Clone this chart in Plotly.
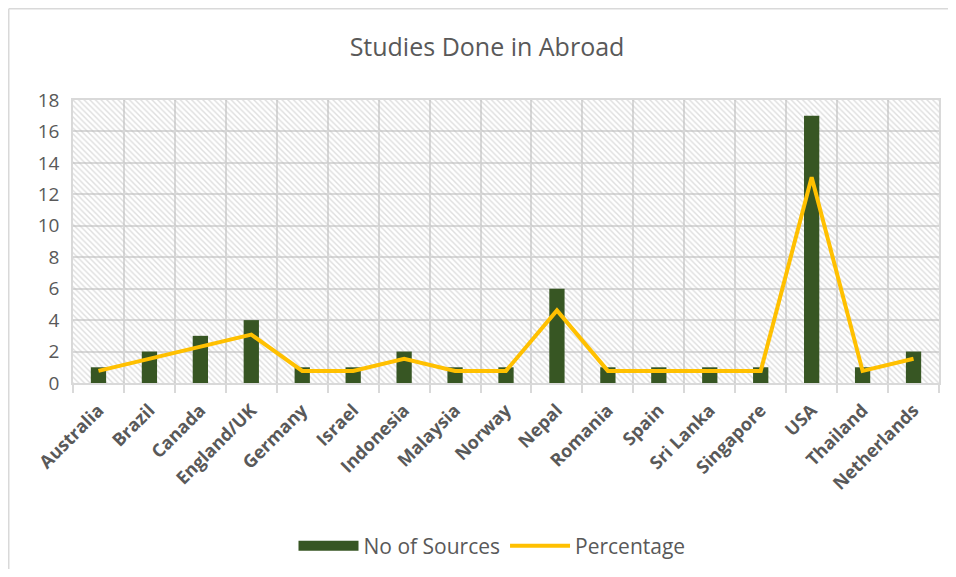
import plotly.graph_objects as go

countries = ['Australia', 'Brazil', 'Canada', 'England/UK', 'Germany', 'Israel',
             'Indonesia', 'Malaysia', 'Norway', 'Nepal', 'Romania', 'Spain',
             'Sri Lanka', 'Singapore', 'USA', 'Thailand', 'Netherlands']
sources = [1, 2, 3, 4, 1, 1, 2, 1, 1, 6, 1, 1, 1, 1, 17, 1, 2]
percentage = [0.77, 1.54, 2.31, 3.08, 0.77, 0.77, 1.54, 0.77, 0.77, 4.62,
              0.77, 0.77, 0.77, 0.77, 13.08, 0.77, 1.54]
y_max = 18

GREY = '#595959'
GREEN = '#375623'
FONT = 'Open Sans'

# page body has an 8px margin, so the figure is sized/offset to fit the window
W, H = 940, 561
L, R, T, B = 65, 9, 92, 186
PW, PH = W - L - R, H - T - B

fig = go.Figure()

# hatched plot-area background, one full-width bar per category
fig.add_trace(go.Bar(
    x=countries, y=[y_max] * len(countries), width=1,
    marker=dict(color='rgba(0,0,0,0)', line_width=0,
                pattern=dict(shape='\\', fgcolor='#bdbdbd', bgcolor='rgba(0,0,0,0)',
                             size=4, solidity=0.35)),
    showlegend=False, hoverinfo='skip'))

fig.add_trace(go.Bar(
    x=countries, y=sources, width=0.3, name='No of Sources',
    marker=dict(color=GREEN, line_width=0), showlegend=False))

# legend swatch for the bars (wide rectangle like the original)
fig.add_trace(go.Scatter(
    x=[None], y=[None], mode='lines', name='No of Sources',
    line=dict(color=GREEN, width=14)))

fig.add_trace(go.Scatter(
    x=countries, y=percentage, mode='lines', name='Percentage',
    line=dict(color='#FFC000', width=4)))

# chart-area border: only the top and left edges fall inside the window
border = dict(color='#d9d9d9', width=1.5)
x_left = (0.75 - L) / PW
y_top = (T + PH - 0.75) / PH

fig.update_layout(
    barmode='overlay',
    width=W, height=H,
    paper_bgcolor='white', plot_bgcolor='white',
    margin=dict(l=L, r=R, t=T, b=B, autoexpand=False),
    title=dict(text='Studies Done in Abroad', x=(487 - 8) / W, xanchor='center',
               y=1 - 39 / H, yanchor='middle',
               font=dict(family=FONT, size=25, color=GREY)),
    legend=dict(orientation='h', x=(492 - 8 - L) / PW, xanchor='center', y=-163 / PH,
                yanchor='middle', font=dict(family=FONT, size=21, color=GREY),
                itemwidth=60, traceorder='normal'),
    font=dict(family=FONT, color=GREY),
    shapes=[
        dict(type='line', xref='paper', yref='paper', x0=x_left, x1=(W - L) / PW,
             y0=y_top, y1=y_top, line=border, layer='below'),
        dict(type='line', xref='paper', yref='paper', x0=x_left, x1=x_left,
             y0=-B / PH, y1=y_top, line=border, layer='below'),
    ],
)

fig.update_xaxes(
    type='category', tickson='boundaries', showgrid=True, gridcolor='#d9d9d9',
    gridwidth=1.5, ticks='outside', ticklen=8, tickcolor='#d9d9d9', tickwidth=1.5,
    showline=True, linecolor='#d9d9d9', linewidth=1.5, mirror=True,
    tickangle=-45, ticklabelstandoff=8,
    tickfont=dict(family=FONT, size=18, color=GREY, weight='bold'))

fig.update_yaxes(
    range=[0, y_max], dtick=2, showgrid=True, gridcolor='#d9d9d9', gridwidth=1.5,
    zeroline=False, showline=True, linecolor='#d9d9d9', linewidth=1.5, mirror=True,
    tickfont=dict(family=FONT, size=19, color=GREY), ticklabelstandoff=8)

fig.write_html('out.html')
